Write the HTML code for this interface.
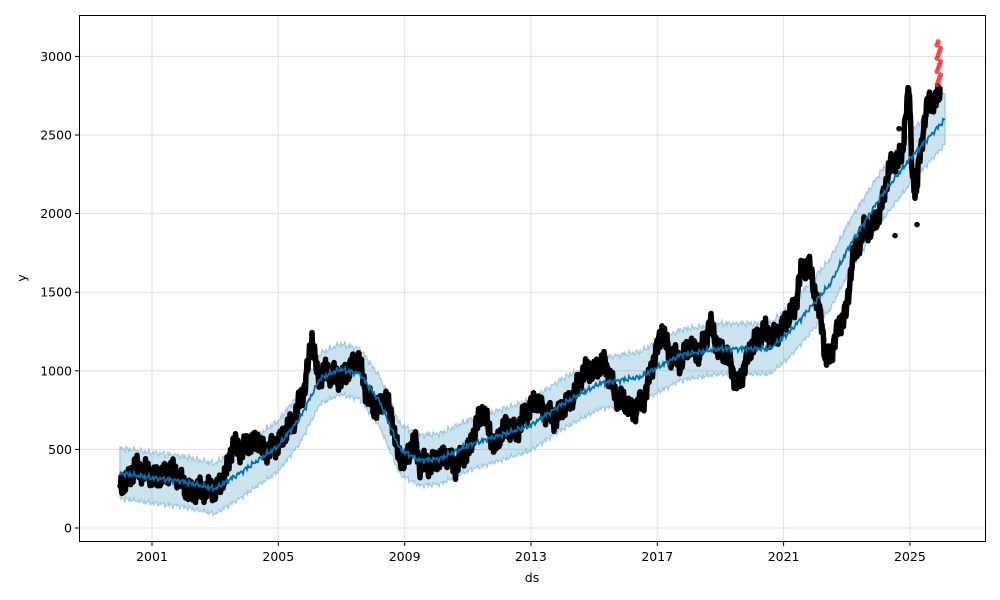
<!DOCTYPE html>
<html><head><meta charset="utf-8"><style>
html,body{margin:0;padding:0;background:#fff;}
svg{display:block;font-family:"DejaVu Sans","Liberation Sans",sans-serif;}
</style></head><body>
<svg id="s" width="1000" height="600" viewBox="0 0 1000 600" xmlns="http://www.w3.org/2000/svg">
<rect width="1000" height="600" fill="#fff"/>
<g id="grid" stroke="#e0e0e0" stroke-width="1"></g>
<path id="band" fill="#0072B2" fill-opacity="0.2" stroke="#9ec9e4" stroke-width="1.2"/>
<path id="data" fill="none" stroke="#000" stroke-width="5.5" stroke-linecap="round" stroke-linejoin="round"/>
<g id="red" fill="#f22" fill-opacity="0.8"></g>
<path id="fc" fill="none" stroke="#0072B2" stroke-width="1.8"/>
<rect x="79.5" y="15.5" width="906" height="526" fill="none" stroke="#000" stroke-width="1"/>
<g id="ticks" font-size="12.5" fill="#000"></g>
<text x="532" y="582" font-size="12.5" text-anchor="middle">ds</text>
<text x="26" y="278" font-size="12.5" text-anchor="middle" transform="rotate(-90 26 278)">y</text>
</svg>
<script>
var Y=function(v){return 528-v*0.1572;};
var g=document.getElementById('grid'),tk=document.getElementById('ticks'),ns='http://www.w3.org/2000/svg';
function el(p,t,a,txt){var e=document.createElementNS(ns,t);for(var k in a)e.setAttribute(k,a[k]);if(txt)e.textContent=txt;p.appendChild(e);}
[0,500,1000,1500,2000,2500,3000].forEach(function(v){var y=Y(v);el(g,'line',{x1:80,x2:985,y1:y,y2:y});el(tk,'line',{x1:75,x2:79.5,y1:y,y2:y,stroke:'#000'});el(tk,'text',{x:72,y:y+4.5,'text-anchor':'end'},String(v));});
[2001,2005,2009,2013,2017,2021,2025].forEach(function(yr){var x=152+(yr-2001)*31.58;el(g,'line',{x1:x,x2:x,y1:16,y2:541});el(tk,'line',{x1:x,x2:x,y1:541.5,y2:546,stroke:'#000'});el(tk,'text',{x:x,y:561,'text-anchor':'middle'},String(yr));});
function interp(pts,x){for(var i=0;i<pts.length-1;i++){if(x>=pts[i][0]&&x<=pts[i+1][0]){var t=(x-pts[i][0])/(pts[i+1][0]-pts[i][0]);return pts[i][1]+t*(pts[i+1][1]-pts[i][1]);}}return pts[pts.length-1][1];}
var F=[[120,350],[150,320],[180,300],[200,270],[215,250],[240,350],[278,520],[300,700],[320,950],[340,1010],[360,980],[380,800],[400,500],[420,430],[440,440],[470,530],[530,650],[560,780],[600,920],[640,960],[680,1100],[720,1140],[770,1140],[790,1250],[830,1550],[850,1800],[880,2100],[910,2350],[945,2600]];
var up='',lo=[],fc='';
for(var x=120;x<=945;x+=1){var v=interp(F,x);var w=Math.sin(x*1.7)*12+Math.sin(x*0.9)*8+Math.sin(x*3.3)*8;var yy=Y(v+w*0.8);fc+=(x==120?'M':'L')+x+' '+yy.toFixed(1);up+=(x==120?'M':'L')+x+' '+Y(v+160+w).toFixed(1);lo.push(x+' '+Y(v-160+w*0.8).toFixed(1));}
document.getElementById('band').setAttribute('d',up+'L'+lo.reverse().join('L')+'Z');
document.getElementById('fc').setAttribute('d',fc);
var D=[[120,250],[125,280],[135,380],[145,360],[152,340],[160,330],[170,380],[180,330],[185,250],[195,230],[205,240],[215,230],[225,320],[232,520],[240,500],[250,540],[258,580],[262,500],[275,520],[285,600],[295,700],[305,900],[312,1200],[318,950],[328,1000],[338,950],[348,1000],[358,1100],[365,900],[375,750],[385,820],[392,700],[398,450],[405,420],[415,550],[420,400],[435,420],[445,480],[455,400],[470,520],[482,750],[490,600],[495,500],[505,650],[515,600],[525,720],[535,820],[545,750],[555,700],[565,780],[575,850],[582,980],[595,1000],[605,1050],[615,850],[625,800],[635,750],[645,850],[655,1100],[662,1250],[670,1100],[680,1050],[690,1150],[700,1100],[710,1300],[718,1150],[728,1100],[738,900],[745,1050],[755,1200],[765,1250],[775,1200],[785,1300],[795,1400],[800,1600],[808,1700],[815,1500],[822,1300],[826,1050],[832,1150],[840,1300],[847,1400],[852,1700],[858,1800],[865,1900],[872,1900],[880,2000],[888,2250],[895,2350],[902,2350],[905,2600],[909,2800],[912,2300],[916,2100],[920,2400],[925,2600],[930,2750],[935,2700],[940,2800]];
var d='';
for(var x=120;x<=940;x+=0.5){var v=interp(D,x);var n=Math.sin(x*2.3)*40+Math.sin(x*5.1)*30+Math.sin(x*0.7)*25;d+=(x==120?'M':'L')+x+' '+Y(v+n).toFixed(1);}
d+='M917 '+Y(1930)+'L917.1 '+Y(1930)+'M899 '+Y(2540)+'L899.1 '+Y(2540)+'M895 '+Y(1860)+'L895.1 '+Y(1860);
document.getElementById('data').setAttribute('d',d);
var rg=document.getElementById('red');
for(var i=0;i<14;i++){el(rg,'circle',{cx:937+(i%4)*1.2,cy:Y(2820+i*21),r:2.6});}
</script>
</body></html>
